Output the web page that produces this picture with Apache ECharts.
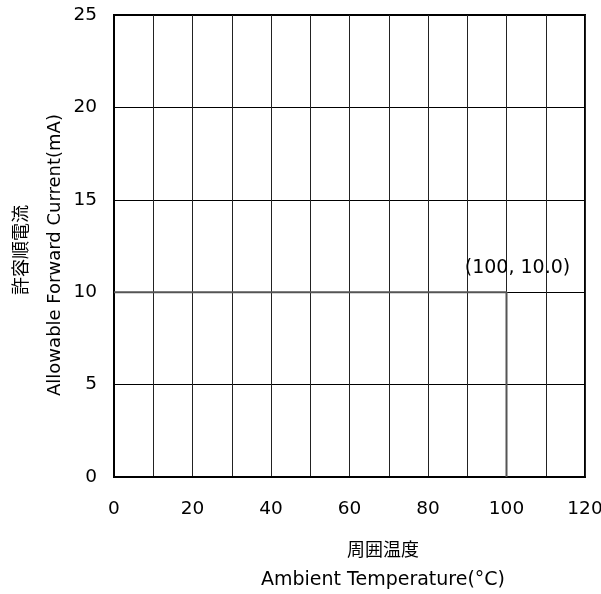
<!DOCTYPE html>
<html><head><meta charset="utf-8">
<script src="https://cdn.jsdelivr.net/npm/echarts@6/dist/echarts.min.js"></script>
<style>html,body{margin:0;padding:0;background:#fff}#c{width:601px;height:594px}</style>
</head><body><div id="c"></div>
<script>
var xValues = [0, 100, 100];
var yValues = [10, 10, 0];
var pointLabel = '(100, 10.0)';
var xNameJa = '周囲温度';
var xNameEn = 'Ambient Temperature(°C)';
var yNameJa = '許容順電流';
var yNameEn = 'Allowable Forward Current(mA)';
var xLabelEvery = 20;

var font = 'DejaVu Sans, Verdana, "Noto Sans CJK JP", sans-serif';
var cjk = '"Noto Sans CJK JP", sans-serif';
var data = xValues.map(function(x, i){ return [x, yValues[i]]; });
var chart = echarts.init(document.getElementById('c'));
chart.setOption({
  animation: false,
  grid: {left: 114, right: 16, top: 15, bottom: 117, outerBoundsMode: 'none', containLabel: false,
    show: true, borderColor: '#000', borderWidth: 2},
  xAxis: {
    type: 'value', min: 0, max: 120, interval: 10,
    axisLine: {show: true, lineStyle: {color: '#000', width: 2}},
    axisTick: {show: false},
    axisLabel: {color: '#000', fontSize: 18.5, fontFamily: font, margin: 23,
      formatter: function(v){ return v % xLabelEvery === 0 ? String(v) : ''; }},
    splitLine: {show: true, lineStyle: {color: '#222', width: 1}}
  },
  yAxis: {
    type: 'value', min: 0, max: 25, interval: 5,
    axisLine: {show: true, lineStyle: {color: '#000', width: 2}},
    axisTick: {show: false},
    axisLabel: {color: '#000', fontSize: 18.5, fontFamily: font, margin: 17},
    splitLine: {show: true, lineStyle: {color: '#000', width: 1}}
  },
  graphic: [
    {type: 'text', x: 383, y: 549, style: {text: xNameJa, font: '18px ' + cjk, fill: '#000', align: 'center', verticalAlign: 'middle'}},
    {type: 'text', x: 383, y: 580, style: {text: xNameEn, font: '19px ' + font, fill: '#000', align: 'center', verticalAlign: 'middle'}},
    {type: 'text', x: 20, y: 250, rotation: Math.PI / 2, style: {text: yNameJa, font: '18px ' + cjk, fill: '#000', align: 'center', verticalAlign: 'middle'}},
    {type: 'text', x: 55, y: 255, rotation: Math.PI / 2, style: {text: yNameEn, font: '18px ' + font, fill: '#000', align: 'center', verticalAlign: 'middle'}}
  ],
  series: [{
    type: 'line', data: data, symbol: 'none', showSymbol: false,
    lineStyle: {color: '#555', width: 2},
    markPoint: {
      symbol: 'circle', symbolSize: 0,
      data: [{coord: data[1], label: {show: true, formatter: pointLabel, position: 'inside', offset: [11, -24],
        color: '#000', fontSize: 19, fontFamily: font}}]
    }
  }]
});
</script></body></html>
